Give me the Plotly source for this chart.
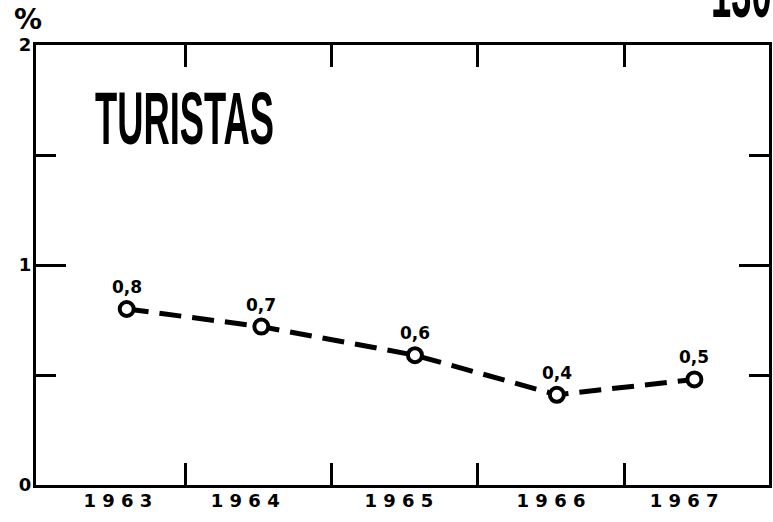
import plotly.graph_objects as go

# ---- data ----
years_label = ["1963", "1964", "1965", "1966", "1967"]
label_pos = [1963.54, 1964.41, 1965.46, 1966.50, 1967.41]   # where the year labels sit
point_x = [1963.60, 1964.52, 1965.57, 1966.54, 1967.48]     # where each point is plotted
point_y = [0.80, 0.72, 0.59, 0.41, 0.48]
value_labels = ["0,8", "0,7", "0,6", "0,4", "0,5"]
year_bounds = [1964, 1965, 1966, 1967]
y_major = [0, 1, 2]
y_major_text = ["0", "1", "2"]
y_minor = [0.5, 1.5]

INK = "#000000"
SANS = "DejaVu Sans, Verdana, sans-serif"

fig = go.Figure()
fig.add_trace(go.Scatter(
    x=point_x, y=point_y, mode="lines+markers",
    line=dict(color=INK, width=5, dash="22px,11px"),
    marker=dict(symbol="circle", size=14, color="white",
                line=dict(color=INK, width=4)),
    hoverinfo="skip", showlegend=False,
))

for x, y, t in zip(point_x, point_y, value_labels):
    fig.add_annotation(x=x, y=y, text=t, showarrow=False, yshift=22,
                       xanchor="center", yanchor="middle",
                       font=dict(family=SANS, size=17, color=INK, weight="bold"))

spaced = [" ".join(list(s)) for s in years_label]

fig.update_xaxes(
    range=[1962.98, 1967.99],
    tickmode="array", tickvals=label_pos, ticktext=spaced,
    ticks="", ticklabelstandoff=-3,
    tickfont=dict(family=SANS, size=18, color=INK, weight="bold"),
    minor=dict(tickmode="array", tickvals=year_bounds, ticks="inside",
               ticklen=22, tickwidth=3, tickcolor=INK, showgrid=False),
    showline=True, linewidth=3, linecolor=INK, mirror="allticks",
    showgrid=False, zeroline=False,
)
fig.update_yaxes(
    range=[0, 2],
    tickmode="array", tickvals=y_major, ticktext=y_major_text,
    ticks="inside", ticklen=30, tickwidth=3, tickcolor=INK,
    ticklabelstandoff=-2,
    tickfont=dict(family=SANS, size=18, color=INK, weight="bold"),
    minor=dict(tickmode="array", tickvals=y_minor, ticks="inside",
               ticklen=20, tickwidth=3, tickcolor=INK, showgrid=False),
    showline=True, linewidth=3, linecolor=INK, mirror="allticks",
    showgrid=False, zeroline=False,
)

fig.add_annotation(xref="paper", yref="paper", x=-0.011, y=1.057,
                   xanchor="center", yanchor="middle",
                   text="%", showarrow=False,
                   font=dict(family=SANS, size=28, color=INK, weight="bold"))

TITLE_FONT = dict(family="Liberation Sans, Arial, sans-serif", size=74,
                  color=INK, weight="bold")
fig.add_annotation(xref="paper", yref="paper", x=0.0774, y=0.833,
                   xanchor="left", yanchor="middle", text="TURISTAS",
                   showarrow=False, font=TITLE_FONT)
fig.add_annotation(xref="paper", yref="paper", x=0.918, y=1.022,
                   xanchor="left", yanchor="bottom", text="130",
                   showarrow=False, font=TITLE_FONT)

fig.update_layout(
    width=773, height=522,
    margin=dict(l=36, r=1, t=45, b=37),
    paper_bgcolor="white", plot_bgcolor="white",
    showlegend=False,
)

squeeze_js = """
(function(){
  document.body.style.margin = '0';
  document.body.style.overflow = 'hidden';
  var target = 179;
  var texts = document.querySelectorAll('.annotation-text');
  var scale = null;
  texts.forEach(function(t){
    if (t.textContent === 'TURISTAS') {
      var bb = t.getBBox();
      scale = target / bb.width;
    }
  });
  if (!scale) return;
  texts.forEach(function(t){
    if (t.textContent === 'TURISTAS' || t.textContent === '130') {
      var bb = t.getBBox();
      t.setAttribute('transform', 'translate(' + bb.x + ',0) scale(' + scale + ',1) translate(' + (-bb.x) + ',0)');
    }
  });
})();
"""

fig.write_html("out.html", post_script=squeeze_js,
               config={"displayModeBar": False})
